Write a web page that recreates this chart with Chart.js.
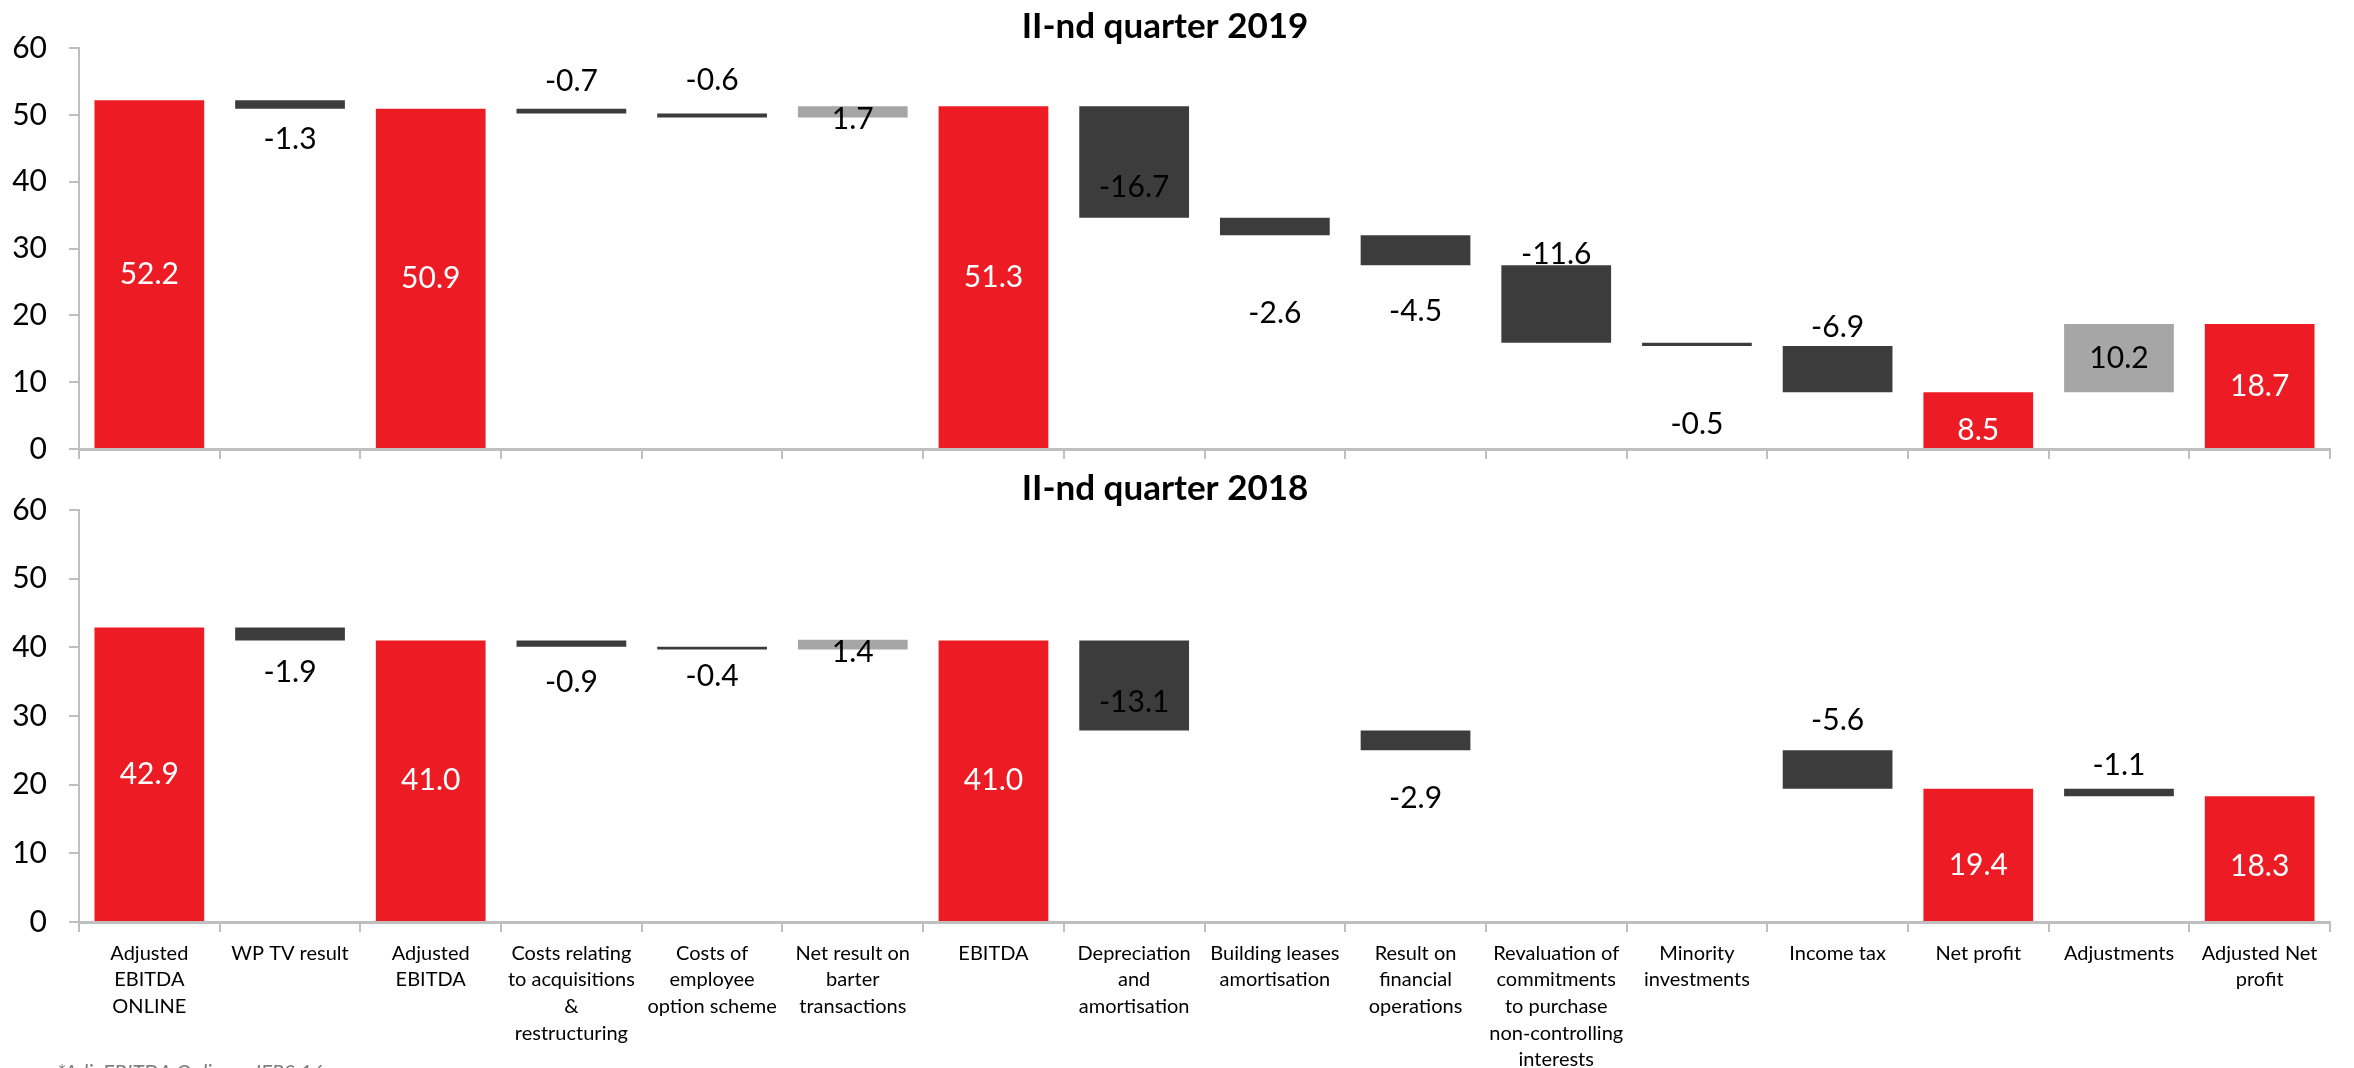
<!DOCTYPE html>
<html>
<head>
<meta charset="utf-8">
<script src="https://cdn.jsdelivr.net/npm/chart.js@4.4.0/dist/chart.umd.min.js"></script>
<style>
  html, body { margin: 0; padding: 0; background: #fff; }
  body { width: 2354px; height: 1068px; overflow: hidden; position: relative; font-family: Lato, sans-serif; }
  .box { position: absolute; left: 0; width: 2354px; }
  /* the top box runs a bit into the lower one: the y-tick padding reserves room below the axis */
  #top { top: 0; height: 489px; }
  #bottom { top: 462px; height: 606px; }
  #note { position: absolute; left: 57px; top: 1059px; font: italic 21px Lato, sans-serif; color: #7f7f7f; white-space: nowrap; }
</style>
</head>
<body>
<div class="box" id="top"><canvas id="chart2019"></canvas></div>
<div class="box" id="bottom"><canvas id="chart2018"></canvas></div>
<div id="note">*Adj. EBITDA Online – IFRS 16</div>
<script>
const categories = [
  ['Adjusted', 'EBITDA', 'ONLINE'],
  ['WP TV result'],
  ['Adjusted', 'EBITDA'],
  ['Costs relating', 'to acquisitions', '&', 'restructuring'],
  ['Costs of', 'employee', 'option scheme'],
  ['Net result on', 'barter', 'transactions'],
  ['EBITDA'],
  ['Depreciation', 'and', 'amortisation'],
  ['Building leases', 'amortisation'],
  ['Result on', 'financial', 'operations'],
  ['Revaluation of', 'commitments', 'to purchase', 'non-controlling', 'interests'],
  ['Minority', 'investments'],
  ['Income tax'],
  ['Net profit'],
  ['Adjustments'],
  ['Adjusted Net', 'profit']
];
// total = bar from zero, delta = step from the running level
const kinds = ['total', 'delta', 'total', 'delta', 'delta', 'delta', 'total', 'delta',
               'delta', 'delta', 'delta', 'delta', 'delta', 'total', 'delta', 'total'];
const values2019 = [52.2, -1.3, 50.9, -0.7, -0.6, 1.7, 51.3, -16.7, -2.6, -4.5, -11.6, -0.5, -6.9, 8.5, 10.2, 18.7];
const values2018 = [42.9, -1.9, 41.0, -0.9, -0.4, 1.4, 41.0, -13.1, null, -2.9, null, null, -5.6, 19.4, -1.1, 18.3];
const yTicks = [0, 10, 20, 30, 40, 50, 60];

// where each value label sits: [anchor on the bar, shift in px]
const labelPlace2019 = [['mid', 0], ['under', 31], ['mid', 0], ['over', -27], ['over', -33], ['mid', 8],
  ['mid', 0], ['mid', 25], ['under', 78], ['under', 46], ['over', -11], ['under', 78], ['over', -19],
  ['mid', 10], ['mid', 0], ['mid', 0]];
const labelPlace2018 = [['mid', 0], ['under', 32], ['mid', 0], ['under', 36], ['under', 27], ['mid', 8],
  ['mid', 0], ['mid', 17], ['mid', 0], ['under', 48], ['mid', 0], ['mid', 0], ['over', -30],
  ['mid', 10], ['over', -23], ['mid', 8]];

const RED = '#ED1C24', DARK = '#3C3C3C', LIGHT = '#A6A6A6', AXIS = '#BFBFBF';

function floating(values) {
  let level = 0;
  return values.map((v, i) => {
    if (v === null) return null;
    if (kinds[i] === 'total') { level = v; return [0, v]; }
    const from = level;
    level = Math.round((level + v) * 10) / 10;
    return [Math.min(from, level), Math.max(from, level)];
  });
}

const barLabels = {
  id: 'barLabels',
  afterDatasetsDraw(chart, args, opts) {
    const ctx = chart.ctx;
    const meta = chart.getDatasetMeta(0);
    ctx.save();
    ctx.font = '30px Lato';
    ctx.textAlign = 'center';
    ctx.textBaseline = 'middle';
    opts.values.forEach((v, i) => {
      if (v === null) return;
      const bar = meta.data[i];
      const top = Math.min(bar.y, bar.base), bottom = Math.max(bar.y, bar.base);
      const [anchor, shift] = opts.place[i];
      const y = anchor === 'over' ? top : anchor === 'under' ? bottom : (top + bottom) / 2;
      ctx.fillStyle = kinds[i] === 'total' ? '#fff' : '#000';
      ctx.fillText(v.toFixed(1), bar.x, y + shift);
    });
    ctx.restore();
  }
};

function makeChart(id, title, values, place, showLabels) {
  new Chart(document.getElementById(id), {
    type: 'bar',
    data: {
      labels: categories,
      datasets: [{
        data: floating(values),
        backgroundColor: values.map((v, i) => kinds[i] === 'total' ? RED : v < 0 ? DARK : LIGHT),
        barPercentage: 0.78,
        categoryPercentage: 1
      }]
    },
    options: {
      responsive: true,
      maintainAspectRatio: false,
      animation: false,
      devicePixelRatio: 1,
      layout: { padding: { left: 0, right: 24, top: 0, bottom: 0 } },
      plugins: {
        legend: { display: false },
        tooltip: { enabled: false },
        title: {
          display: true, text: title, color: '#000',
          font: { family: 'Lato', size: 35, weight: 'bold' },
          padding: { top: 6, bottom: 0 }
        },
        barLabels: { values, place }
      },
      scales: {
        x: {
          grid: { drawOnChartArea: false, color: AXIS, lineWidth: 2, tickLength: 10 },
          border: { color: AXIS, width: 3 },
          ticks: {
            display: showLabels, color: '#000', autoSkip: false, maxRotation: 0, padding: 8,
            font: { family: 'Lato', size: 20, lineHeight: 1.33 }
          },
          afterFit: s => { s.height = showLabels ? 146 : 13; }
        },
        y: {
          min: 0, max: 60,
          afterBuildTicks: s => { s.ticks = yTicks.map(v => ({ value: v })); },
          grid: { drawOnChartArea: false, color: AXIS, lineWidth: 2, tickLength: 10 },
          border: { color: AXIS, width: 2 },
          ticks: { color: '#000', padding: 22, font: { family: 'Lato', size: 30 } },
          afterFit: s => { s.width = 79; }
        }
      }
    },
    plugins: [barLabels]
  });
}

makeChart('chart2019', 'II-nd quarter 2019', values2019, labelPlace2019, false);
makeChart('chart2018', 'II-nd quarter 2018', values2018, labelPlace2018, true);
</script>
</body>
</html>
